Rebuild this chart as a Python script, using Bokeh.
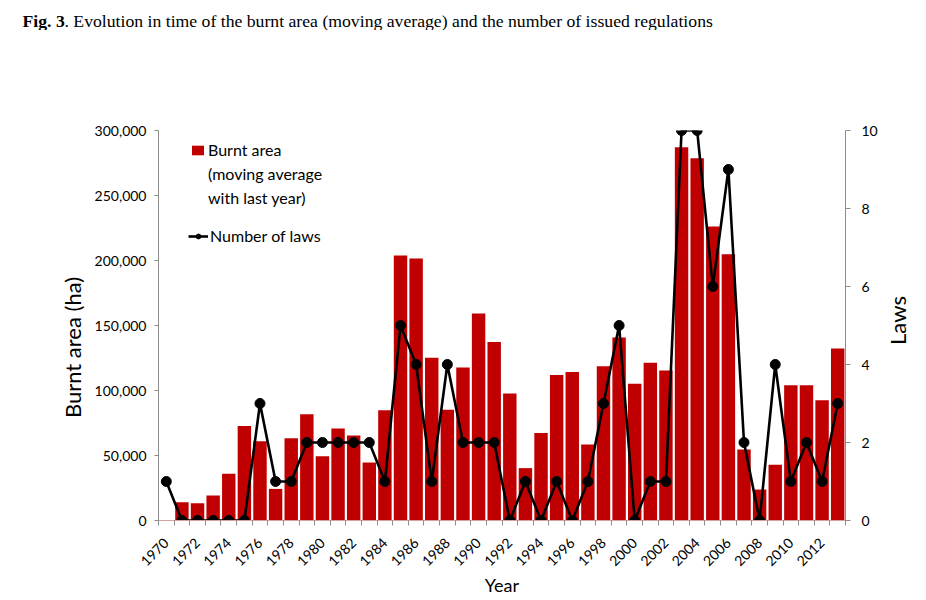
import math
from bokeh.plotting import figure
from bokeh.layouts import column, row
from bokeh.models import (Range1d, LinearAxis, FixedTicker, NumeralTickFormatter,
                          Label, Legend, LegendItem)
from bokeh.embed import file_html
from bokeh.resources import INLINE

years = list(range(1970, 2014))
burnt_area = [0, 14000, 13300, 19200, 35900, 72600, 61000, 24300, 63300, 81800,
              49500, 70800, 65400, 44600, 84900, 203800, 201500, 125100, 85100, 117700,
              159200, 137400, 97700, 40300, 67400, 112000, 114300, 58500, 118700, 140800,
              105100, 121300, 115400, 287200, 278700, 226200, 204900, 54600, 23800, 42800,
              104100, 104100, 92500, 132300]
laws = [1, 0, 0, 0, 0, 0, 3, 1, 1, 2,
        2, 2, 2, 2, 1, 5, 4, 1, 4, 2,
        2, 2, 0, 1, 0, 1, 0, 1, 3, 5,
        0, 1, 1, 10, 10, 6, 9, 2, 0, 4,
        1, 2, 1, 3]
label_years = list(range(1970, 2013, 2))
left_ticks = [0, 50000, 100000, 150000, 200000, 250000, 300000]
right_ticks = [0, 2, 4, 6, 8, 10]

FONT = "Lato"
AXIS_GREY = "#8c8c8c"
BAR_RED = "#c00000"
W = 926
TITLE_H = 30
MAIN_H = 570
LEFT_W = 86
RIGHT_W = 46
MAIN_W = W - LEFT_W - RIGHT_W


def blank(width, height):
    f = figure(width=width, height=height, x_range=Range1d(0, width),
               y_range=Range1d(0, height), x_axis_type=None, y_axis_type=None,
               output_backend="svg", toolbar_location=None, min_border=0,
               min_border_left=0, min_border_right=0, min_border_top=0,
               min_border_bottom=0)
    f.frame_align = False
    f.xgrid.visible = False
    f.ygrid.visible = False
    f.outline_line_color = None
    return f


# ---- title strip ----
t = blank(W, TITLE_H)
t.add_layout(Label(x=22, y=10, text="Fig. 3", text_font="Liberation Serif",
                   text_font_style="bold", text_font_size="17.7px",
                   text_baseline="middle", text_color="black"))
t.add_layout(Label(x=64, y=10,
                   text=". Evolution in time of the burnt area (moving average) and the number of issued regulations",
                   text_font="Liberation Serif", text_font_size="17.7px",
                   text_baseline="middle", text_color="black"))

# ---- left axis title strip ----
lf = blank(LEFT_W, MAIN_H)
lf.add_layout(Label(x=72, y=MAIN_H - (347 - TITLE_H), text="Burnt area (ha)",
                    angle=math.pi / 2, text_font=FONT, text_font_size="22px",
                    text_align="center", text_baseline="middle", text_color="black"))

# ---- right axis title strip ----
rf = blank(RIGHT_W, MAIN_H)
rf.add_layout(Label(x=897 - (W - RIGHT_W), y=MAIN_H - (320 - TITLE_H), text="Laws",
                    angle=math.pi / 2, text_font=FONT, text_font_size="22px",
                    text_align="center", text_baseline="middle", text_color="black"))

# ---- main chart ----
p = figure(width=MAIN_W, height=MAIN_H,
           x_range=Range1d(years[0] - 0.5, years[-1] + 0.5),
           y_range=Range1d(0, 300000),
           output_backend="svg", toolbar_location=None,
           min_border_left=158 - LEFT_W, min_border_right=(W - RIGHT_W) - 846,
           min_border_top=130 - TITLE_H, min_border_bottom=80)
p.frame_align = False
p.xgrid.visible = False
p.ygrid.visible = False
p.outline_line_color = None

p.extra_y_ranges = {"laws": Range1d(0, 10)}

bars = p.vbar(x=years, top=burnt_area, width=0.86, fill_color=BAR_RED,
              line_color=None)
ln = p.line(years, laws, y_range_name="laws", line_color="black", line_width=2.6)
pts = p.scatter(years, laws, y_range_name="laws", size=10, fill_color="black",
                line_color="black")

# x axis
xa = p.xaxis[0]
xa.ticker = FixedTicker(ticks=label_years,
                        minor_ticks=[y - 0.5 for y in years] + [years[-1] + 0.5])
xa.major_label_overrides = {y: str(y) for y in label_years}
xa.major_label_orientation = math.pi / 4
xa.major_tick_line_color = None
xa.major_tick_in = 0
xa.major_tick_out = 0
xa.minor_tick_line_color = AXIS_GREY
xa.minor_tick_in = 0
xa.minor_tick_out = 5
xa.axis_line_color = "#d9a0a0"
xa.major_label_text_font = FONT
xa.major_label_text_font_size = "14px"
xa.major_label_text_color = "black"
xa.major_label_standoff = 15
xa.axis_label = "Year"
xa.axis_label_text_font = FONT
xa.axis_label_text_font_style = "normal"
xa.axis_label_text_font_size = "18px"
xa.axis_label_text_color = "black"
xa.axis_label_standoff = 0

# left axis
ya = p.yaxis[0]
ya.ticker = FixedTicker(ticks=left_ticks)
ya.formatter = NumeralTickFormatter(format="0,0")
ya.axis_line_color = AXIS_GREY
ya.major_tick_line_color = AXIS_GREY
ya.major_tick_in = 0
ya.major_tick_out = 4
ya.minor_tick_line_color = None
ya.major_label_text_font = FONT
ya.major_label_text_font_size = "14px"
ya.major_label_text_color = "black"
ya.major_label_standoff = 8

# right axis
ra = LinearAxis(y_range_name="laws", ticker=FixedTicker(ticks=right_ticks))
ra.axis_line_color = AXIS_GREY
ra.major_tick_line_color = AXIS_GREY
ra.major_tick_in = 0
ra.major_tick_out = 5
ra.minor_tick_line_color = None
ra.major_label_text_font = FONT
ra.major_label_text_font_size = "14px"
ra.major_label_text_color = "black"
ra.major_label_standoff = 11
p.add_layout(ra, "right")

# legends
leg_a = Legend(items=[
    LegendItem(label="Burnt area", renderers=[bars]),
    LegendItem(label="(moving average", renderers=[]),
    LegendItem(label="with last year)", renderers=[]),
], location=(32, 313), orientation="vertical")
leg_b = Legend(items=[
    LegendItem(label="Number of laws", renderers=[ln, pts]),
], location=(30, 275), orientation="vertical")
for lg, gw, ls, sp in ((leg_a, 15, 3, 5), (leg_b, 20, 2, 0)):
    lg.border_line_color = None
    lg.background_fill_alpha = 0
    lg.padding = 0
    lg.margin = 0
    lg.spacing = sp
    lg.glyph_width = gw
    lg.glyph_height = 12
    lg.label_standoff = ls
    lg.label_text_font = FONT
    lg.label_text_font_size = "16px"
    lg.label_text_color = "black"
    p.add_layout(lg, "center")

layout = column(t, row(lf, p, rf, spacing=0), spacing=0)
open("out.html", "w").write(file_html(layout, INLINE))
